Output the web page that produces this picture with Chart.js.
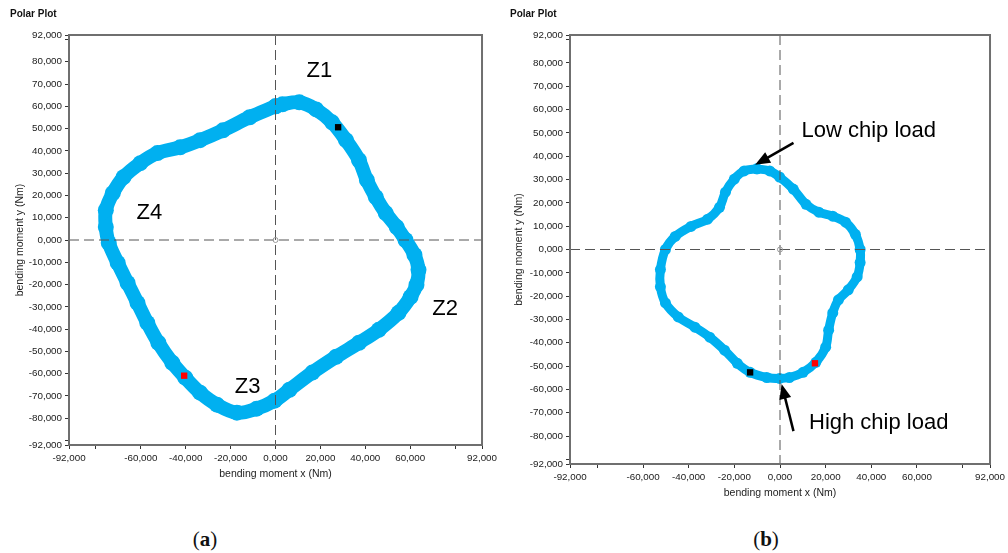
<!DOCTYPE html>
<html>
<head>
<meta charset="utf-8">
<script src="https://cdn.jsdelivr.net/npm/chart.js@4.4.1/dist/chart.umd.min.js"></script>
<style>
  body { margin: 0; background: #fff; width: 1008px; height: 553px; position: relative; overflow: hidden; }
  .panel { position: absolute; top: 0; }
  #wrapA { left: 0; width: 500px; height: 500px; }
  #wrapB { left: 500px; width: 508px; height: 520px; }
  .caption { position: absolute; top: 527px; font-family: "Liberation Serif", serif; font-size: 21px; line-height: 24px; color: #111; transform: translateX(-50%); }
</style>
</head>
<body>
<div id="wrapA" class="panel"><canvas id="chartA"></canvas></div>
<div id="wrapB" class="panel"><canvas id="chartB"></canvas></div>
<div class="caption" style="left:205px">(<b>a</b>)</div>
<div class="caption" style="left:766px">(<b>b</b>)</div>
<script>
// ==================== DATA ====================
// shared axis ticks (Nm)
const ticksX = [-92000, -80000, -60000, -40000, -20000, 0, 20000, 40000, 60000, 80000, 92000];
const ticksY = [92000, 90000, 80000, 70000, 60000, 50000, 40000, 30000, 20000, 10000, 0,
                -10000, -20000, -30000, -40000, -50000, -60000, -70000, -80000, -90000, -92000];
const unlabeledX = [-80000, 80000];
const unlabeledY = [-90000, 90000];

// panel (a) - bending moment orbit
const loopAx = [0, 3100, 10600, 18100, 25200, 31400, 37200, 40700, 44700, 49100, 54000, 57900,
                61900, 63700, 62800, 60200, 54800, 46000, 37200, 27000, 16400, 6200, -400, -8400,
                -17200, -26100, -33600, -40200, -46000, -52200, -57100, -61500, -65900, -70300,
                -74300, -75600, -75600, -72500, -67700, -60200, -52600, -42500, -33600, -23400, -11500];
const loopAy = [60000, 60900, 61800, 58600, 52800, 44800, 35800, 26900, 19200, 12100, 5800, 0,
                -6700, -13400, -20100, -25500, -32700, -40300, -46100, -52400, -59500, -67200, -72100, -75700,
                -77500, -73900, -68500, -61800, -55100, -46100, -37200, -28200, -19300, -10300,
                -1300, 5800, 13400, 21000, 28200, 34500, 39000, 41600, 44800, 49200, 55100];
const blackAx = [27900], blackAy = [50600];
const redAx = [-40700], redAy = [-60900];
const zLabels = ['Z1', 'Z2', 'Z3', 'Z4'];
const zLabelX = [19500, 75600, -12400, -56200];
const zLabelY = [75700, -30900, -65800, 12100];

// panel (b) - bending moment orbit
const loopBx = [-10100, -4500, -200, 5800, 11400, 17000, 23100, 28700, 33000, 35100, 35100, 33800,
                29900, 25600, 23100, 21300, 20000, 15700, 10100, 4100, -200, -5800, -13100, -18700,
                -24300, -30800, -37300, -44600, -50200, -52400, -52400, -50200, -45900, -39000,
                -31700, -26500, -23900, -20000, -15700];
const loopBy = [34600, 33700, 31100, 25900, 19400, 16000, 14300, 11700, 6500, 0, -5600, -11700,
                -17300, -21600, -27200, -34600, -41900, -48400, -52700, -54900, -55300, -54900, -52700, -48800,
                -43200, -37600, -33300, -28900, -22900, -16000, -8600, 0, 5600, 9900,
                13000, 18100, 24600, 30200, 33700];
const blackBx = [-13100], blackBy = [-52700];
const redBx = [15300], redBy = [-48800];
const noteLabels = ['Low chip load', 'High chip load'];
const noteX = [9400, 12700];
const noteY = [50900, -74500];
const arrowTailX = [5900, 5900], arrowTailY = [45700, -77900];
const arrowTipX = [-10900, 700], arrowTipY = [36300, -57700];

// ==================== HELPERS ====================
const blue = '#00b0f0';
const fmt = v => (v / 1000).toFixed(3).replace('.', ',');
const toPoints = (xs, ys) => xs.map((x, i) => ({ x: x, y: ys[i] }));
const closed = (xs, ys) => { const p = toPoints(xs, ys); p.push(p[0]); return p; };

function drawArrow(ctx, x0, y0, x1, y1) {
    const ang = Math.atan2(y1 - y0, x1 - x0);
    const head = 15, half = 6;
    ctx.save();
    ctx.strokeStyle = '#000';
    ctx.fillStyle = '#000';
    ctx.lineWidth = 2.5;
    ctx.beginPath();
    ctx.moveTo(x0, y0);
    ctx.lineTo(x1 - Math.cos(ang) * head * 0.8, y1 - Math.sin(ang) * head * 0.8);
    ctx.stroke();
    ctx.beginPath();
    ctx.moveTo(x1, y1);
    ctx.lineTo(x1 - Math.cos(ang) * head + Math.sin(ang) * half, y1 - Math.sin(ang) * head - Math.cos(ang) * half);
    ctx.lineTo(x1 - Math.cos(ang) * head - Math.sin(ang) * half, y1 - Math.sin(ang) * head + Math.cos(ang) * half);
    ctx.closePath();
    ctx.fill();
    ctx.restore();
}

// crosshair, frame, header and annotations
function overlay(notes) {
    return {
        id: 'overlay',
        afterDatasetsDraw(chart) {
            const { ctx, chartArea: a, scales: { x, y } } = chart;
            const x0 = x.getPixelForValue(0), y0 = y.getPixelForValue(0);
            ctx.save();
            ctx.strokeStyle = '#555';
            ctx.lineWidth = 1;
            ctx.setLineDash([10, 5]);
            ctx.beginPath();
            ctx.moveTo(x0, a.top); ctx.lineTo(x0, a.bottom);
            ctx.moveTo(a.left, y0); ctx.lineTo(a.right, y0);
            ctx.stroke();
            ctx.setLineDash([]);
            ctx.strokeStyle = '#999';
            ctx.beginPath();
            ctx.arc(x0, y0, 2.5, 0, Math.PI * 2);
            ctx.stroke();
            // frame
            ctx.strokeStyle = '#6f6f6f';
            ctx.lineWidth = 2;
            ctx.strokeRect(a.left, a.top, a.right - a.left, a.bottom - a.top);
            // annotations
            ctx.fillStyle = '#000';
            ctx.font = '22px "Liberation Sans", Arial, sans-serif';
            ctx.textBaseline = 'middle';
            ctx.textAlign = notes.align;
            notes.labels.forEach((t, i) => {
                ctx.fillText(t, x.getPixelForValue(notes.x[i]), y.getPixelForValue(notes.y[i]));
            });
            (notes.arrows || []).forEach(ar => {
                drawArrow(ctx, x.getPixelForValue(ar[0]), y.getPixelForValue(ar[1]),
                               x.getPixelForValue(ar[2]), y.getPixelForValue(ar[3]));
            });
            ctx.restore();
        },
        afterDraw(chart) {
            const ctx = chart.ctx;
            ctx.save();
            ctx.fillStyle = '#111';
            ctx.font = 'bold 10px "Liberation Sans", Arial, sans-serif';
            ctx.textBaseline = 'middle';
            ctx.textAlign = 'left';
            ctx.fillText('Polar Plot', 10, 14);
            ctx.restore();
        }
    };
}

function makeChart(id, cfg) {
    const tickFont = { family: '"Liberation Sans", Arial, sans-serif', size: 9.8 };
    const titleFont = { family: '"Liberation Sans", Arial, sans-serif', size: 10.5 };
    return new Chart(document.getElementById(id), {
        type: 'scatter',
        data: {
            datasets: [
                { data: cfg.black, pointStyle: 'rect', pointRadius: 4.5, backgroundColor: '#000', borderWidth: 0 },
                { data: cfg.red, pointStyle: 'rect', pointRadius: 4.5, backgroundColor: '#ff0000', borderWidth: 0 },
                { data: cfg.loop, showLine: true, tension: 0.35, borderColor: blue, borderWidth: cfg.band,
                  borderJoinStyle: 'round', pointRadius: cfg.band / 2 + 1, pointBackgroundColor: blue,
                  pointBorderWidth: 0, fill: false }
            ]
        },
        options: {
            responsive: true, maintainAspectRatio: false, animation: false, events: [],
            layout: { padding: { top: cfg.top, right: cfg.right, bottom: 0, left: 0 } },
            plugins: { legend: { display: false }, tooltip: { enabled: false } },
            scales: {
                x: {
                    type: 'linear', min: -92000, max: 92000,
                    afterBuildTicks: s => { s.ticks = ticksX.map(v => ({ value: v })); },
                    afterFit: s => { s.height = cfg.xHeight; },
                    ticks: { font: tickFont, color: '#1a1a1a', padding: 3, maxRotation: 0, autoSkip: false,
                             callback: v => unlabeledX.includes(v) ? '' : fmt(v) },
                    grid: { drawOnChartArea: false, drawTicks: true, tickLength: 4, color: '#333' },
                    border: { display: false },
                    title: { display: true, text: 'bending moment x (Nm)', font: titleFont, color: '#222',
                             padding: { top: 0, bottom: cfg.xTitlePad } }
                },
                y: {
                    type: 'linear', min: -92000, max: 92000,
                    afterBuildTicks: s => { s.ticks = ticksY.map(v => ({ value: v })); },
                    afterFit: s => { s.width = cfg.yWidth; },
                    ticks: { font: tickFont, color: '#1a1a1a', padding: 3, autoSkip: false,
                             callback: v => unlabeledY.includes(v) ? '' : fmt(v) },
                    grid: { drawOnChartArea: false, drawTicks: true, tickLength: 4, color: '#333' },
                    border: { display: false },
                    title: { display: true, text: 'bending moment y (Nm)', font: titleFont, color: '#222',
                             padding: { top: cfg.yTitlePad, bottom: 0 } }
                }
            }
        },
        plugins: [overlay(cfg.notes)]
    });
}

// ==================== CHARTS ====================
makeChart('chartA', {
    loop: closed(loopAx, loopAy), black: toPoints(blackAx, blackAy), red: toPoints(redAx, redAy),
    band: 14, top: 35, right: 17, xHeight: 55, yWidth: 69, xTitlePad: 20, yTitlePad: 14,
    notes: { labels: zLabels, x: zLabelX, y: zLabelY, align: 'center' }
});

makeChart('chartB', {
    loop: closed(loopBx, loopBy), black: toPoints(blackBx, blackBy), red: toPoints(redBx, redBy),
    band: 9, top: 35, right: 11, xHeight: 56, yWidth: 70, xTitlePad: 21, yTitlePad: 13,
    notes: {
        labels: noteLabels, x: noteX, y: noteY, align: 'left',
        arrows: arrowTailX.map((v, i) => [v, arrowTailY[i], arrowTipX[i], arrowTipY[i]])
    }
});
</script>
</body>
</html>
